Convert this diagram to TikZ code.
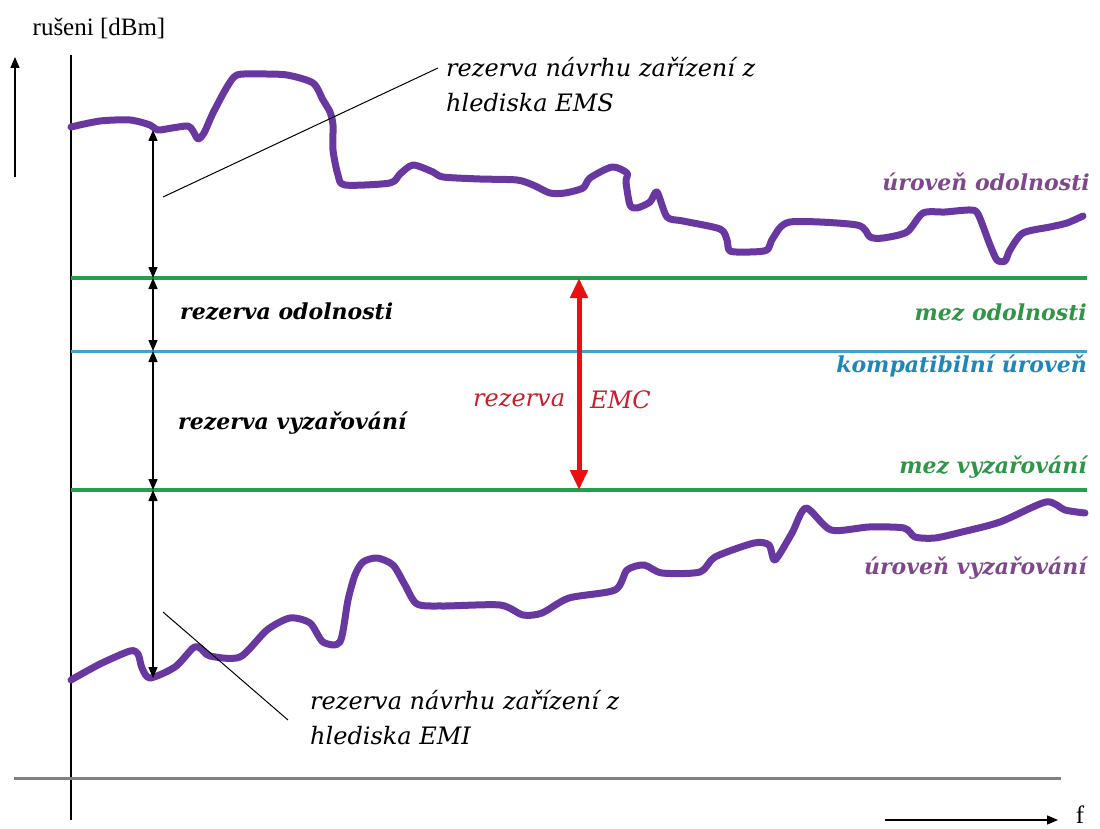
\documentclass[tikz,border=0pt]{standalone}
\usepackage{fontspec}
\setmainfont{Liberation Serif}
\newfontfamily\lblfont{DejaVu Serif}
\usetikzlibrary{arrows.meta}
\usetikzlibrary{positioning}
\definecolor{mpurple}{RGB}{104,56,160}
\definecolor{mgreen}{RGB}{38,158,82}
\definecolor{mblue}{RGB}{66,160,205}
\definecolor{mred}{RGB}{232,16,16}
\definecolor{tpurple}{RGB}{128,72,140}
\definecolor{tgreen}{RGB}{46,150,70}
\definecolor{tblue}{RGB}{30,135,185}
\definecolor{tred}{RGB}{200,30,45}
\tikzset{
  curve/.style = {mpurple, line width = 7pt, line join = round, line cap = round},
  marg/.style = {line width = 1.4pt, {Triangle[length=11pt,width=9pt]}-{Triangle[length=11pt,width=9pt]}},
  lbl/.style = {font = \lblfont\fontsize{24}{35}\selectfont\itshape, inner sep = 0},
  blbl/.style = {font = \lblfont\fontsize{22}{26}\selectfont\bfseries\itshape, inner sep = 0}
}

\begin{document}
\begin{tikzpicture}[x = 1pt, y = -1pt]
  \useasboundingbox (0, 0) rectangle (1100, 829);

  % axes
  \coordinate (yb) at (71, 820);
  \coordinate (yt) at (71, 55);
  \draw [line width = 1.3pt] (yb) -- (yt);
  \coordinate (ua) at (15, 177);
  \coordinate (ub) at (15, 57);
  \draw [line width = 1.4pt, -{Triangle[length=11pt,width=9pt]}] (ua) -- (ub);
  \node [font = \fontsize{25}{28}\selectfont] (ylbl) at (99, 28) {rušeni [dBm]};
  \coordinate (ga) at (14, 778);
  \coordinate (gb) at (1061, 778);
  \draw [gray, line width = 3pt] (ga) -- (gb);
  \coordinate (fa) at (885, 820);
  \coordinate (fb) at (1058, 820);
  \draw [line width = 1.4pt, -{Triangle[length=11pt,width=9pt]}] (fa) -- (fb);
  \node [font = \fontsize{25}{28}\selectfont] (flbl) at (1080, 815) {f};

  % levels
  \foreach \n/\y/\c/\w in {lo/278/mgreen/3.5pt, lk/351/mblue/3pt, lv/490/mgreen/3.5pt} {
    \coordinate (\n a) at (71, \y);
    \coordinate (\n b) at (1087, \y);
    \draw [\c, line width = \w] (\n a) -- (\n b);
  }

  % curves
  \draw [curve] plot [smooth, tension = 0.45] coordinates {
    (71,127) (100,121) (130,120) (150,125) (158,130) (172,128) (188,126) (193,131)
    (198,139) (204,133) (213,113) (227,87) (237,75) (260,74) (287,75) (313,83)
    (323,100) (330,112) (333,125) (333,150) (338,175) (345,185) (390,183) (400,174)
    (413,165) (433,172) (443,177) (480,179) (517,180) (533,185) (550,193) (565,193)
    (583,188) (590,178) (612,167) (627,173) (626,182) (630,205) (637,208) (650,202)
    (657,192) (667,217) (683,221) (720,229) (727,240) (730,251) (750,252) (767,250)
    (773,238) (790,222) (857,225) (870,237) (883,238) (907,232) (923,213) (945,212)
    (970,210) (978,214) (990,245) (997,260) (1005,261) (1010,250) (1023,233) (1050,227)
    (1067,223) (1083,216)};
  \draw [curve] plot [smooth, tension = 0.45] coordinates {
    (71,680) (100,664) (130,651) (138,654) (142,668) (150,678) (175,667) (193,648)
    (200,648) (210,656) (240,657) (267,630) (290,618) (310,623) (323,642) (340,642)
    (348,600) (355,575) (363,562) (377,558) (393,565) (405,585) (417,604) (443,606)
    (500,605) (523,615) (542,613) (569,598) (615,590) (627,570) (644,565) (662,573)
    (700,572) (715,557) (754,543) (769,545) (775,560) (792,533) (806,508) (831,530)
    (869,527) (904,528) (915,537) (935,538) (962,532) (1000,522) (1046,502) (1065,510)
    (1085,513)};

  % margins
  \coordinate (m0) at (153, 130);
  \coordinate (m1) at (153, 278);
  \coordinate (m2) at (153, 351);
  \coordinate (m3) at (153, 490);
  \coordinate (m4) at (153, 678);
  \foreach \a/\b in {m0/m1, m1/m2, m2/m3, m3/m4} {
    \draw [marg] (\a) -- (\b);
  }
  \coordinate (ra) at (579, 278);
  \coordinate (rb) at (579, 490);
  \draw [mred, line width = 5pt, {Triangle[length=20pt,width=17pt]}-{Triangle[length=20pt,width=17pt]}] (ra) -- (rb);

  % labels
  \node [blbl, anchor = west] (rodol) at (180, 312) {rezerva odolnosti};
  \node [blbl, anchor = west] (rvyz) at (178, 423) {rezerva vyzařování};
  \node [lbl, tred, anchor = west] (remc) at (473, 400) {rezerva};
  \node [lbl, tred, anchor = west] (emc) at (590, 400) {EMC};
  \node [blbl, tgreen, anchor = east] (mezo) at (1087, 313) {mez odolnosti};
  \node [blbl, tblue, anchor = east] (kompat) at (1087, 366) {kompatibilní úroveň};
  \node [blbl, tgreen, anchor = east] (mezv) at (1087, 467) {mez vyzařování};
  \node [blbl, tpurple, anchor = east] (urodol) at (1090, 182) {úroveň odolnosti};
  \node [blbl, tpurple, anchor = east] (urvyz) at (1087, 568) {úroveň vyzařování};

  % leaders
  \node [lbl, anchor = west, align = left] (ems) at (446, 85) {rezerva návrhu zařízení z\\hlediska EMS};
  \node [lbl, anchor = west, align = left] (emi) at (310, 718) {rezerva návrhu zařízení z\\hlediska EMI};
  \coordinate (emsa) at (163, 197);
  \coordinate (emsb) at (438, 68);
  \draw [line width = 1pt] (emsa) -- (emsb);
  \coordinate (emia) at (163, 612);
  \coordinate (emib) at (288, 720);
  \draw [line width = 1pt] (emia) -- (emib);
\end{tikzpicture}
\end{document}
